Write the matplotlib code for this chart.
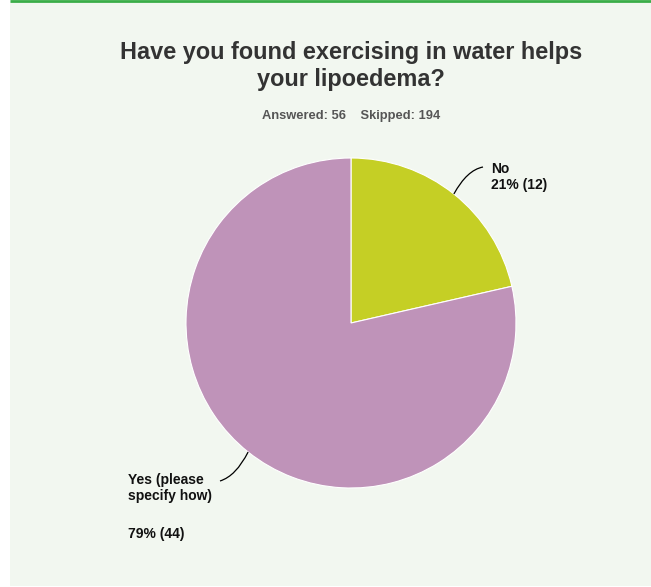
import matplotlib
matplotlib.use("Agg")
import matplotlib.pyplot as plt
import numpy as np
from matplotlib.path import Path
from matplotlib.patches import PathPatch, Rectangle

categories = ["No", "Yes (please\nspecify how)"]
counts = [12, 44]
pct_labels = ["21% (12)", "79% (44)"]
colors = ["#c5cf25", "#bf93b9"]
title_lines = ["Have you found exercising in water helps", "your lipoedema?"]
subtitle = "Answered: 56    Skipped: 194"

W, H = 651, 587
fig = plt.figure(figsize=(W / 100, H / 100), dpi=100)
fig.patch.set_facecolor("white")
ax = fig.add_axes([0, 0, 1, 1])

def P(x, y):
    return (x, H - y)

font = "Liberation Sans"

cx, cy = P(351, 323)
r = 165
wedges, _ = ax.pie(counts, colors=colors, startangle=90, counterclock=False,
                   center=(cx, cy), radius=r, frame=True,
                   wedgeprops=dict(edgecolor="white", linewidth=0.8, zorder=3))
ax.set_xlim(0, W)
ax.set_ylim(0, H)
ax.set_aspect("equal")
ax.axis("off")

# panel background and top green rule
ax.add_patch(Rectangle(P(10, 586), W - 10, 586, facecolor="#f2f7f0", edgecolor="none", zorder=0))
ax.plot([10, W], [H - 1, H - 1], color="#3aad48", lw=2, zorder=1, solid_capstyle="butt")

for line, yb in zip(title_lines, [59, 86]):
    ax.text(351, H - yb, line, ha="center", va="baseline", fontsize=16.9, fontweight="bold",
            color="#333333", family=font)
ax.text(351, H - 119, subtitle, ha="center", va="baseline", fontsize=9.3, fontweight="bold",
        color="#555555", family=font)

# leader lines
def leader(p0, p1, ctrl):
    path = Path([p0, ctrl, p1], [Path.MOVETO, Path.CURVE3, Path.CURVE3])
    ax.add_patch(PathPatch(path, facecolor="none", edgecolor="black", lw=0.9, zorder=5))

for i, w in enumerate(wedges):
    ang = np.deg2rad((w.theta1 + w.theta2) / 2)
    ex, ey = cx + r * np.cos(ang), cy + r * np.sin(ang)
    if i == 0:
        leader((ex, ey), P(483, 167), P(467, 170))
    else:
        leader((ex, ey), P(220, 481), P(236, 476))

ax.text(491, H - 162, categories[0] + "\n" + pct_labels[0], ha="left", va="top",
        fontsize=10, fontweight="bold", color="#111111", family=font, linespacing=1.2)
ax.text(128, H - 473, categories[1], ha="left", va="top",
        fontsize=10, fontweight="bold", color="#111111", family=font, linespacing=1.2)
ax.text(128, H - 527, pct_labels[1], ha="left", va="top",
        fontsize=10, fontweight="bold", color="#111111", family=font)

fig.savefig("out.png", dpi=100, facecolor="white")
